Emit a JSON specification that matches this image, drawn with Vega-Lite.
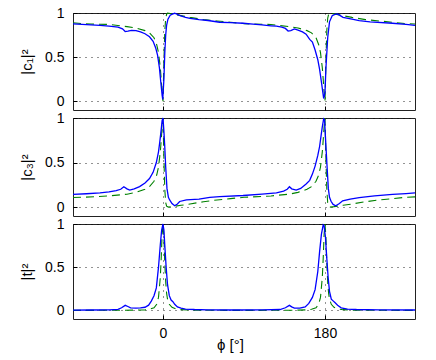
{
  "$schema": "https://vega.github.io/schema/vega-lite/v6.json",
  "padding": {"left": 19, "top": 5, "right": 5, "bottom": 5},
  "spacing": 8,
  "bounds": "flush",
  "config": {
    "font": "Liberation Sans",
    "view": {"stroke": "#222222", "strokeWidth": 1},
    "axis": {
      "domain": false,
      "labelFontSize": 14,
      "titleFontSize": 15,
      "titleFontWeight": "normal",
      "labelColor": "black",
      "titleColor": "black",
      "tickColor": "black",
      "tickSize": -4,
      "gridColor": "black",
      "gridDash": [1, 5],
      "gridOpacity": 0.85,
      "gridWidth": 1
    }
  },
  "data": {"values": [
    {"p":"c1","s":"model","phi":-100,"v":0.89},{"p":"c1","s":"model","phi":-90,"v":0.88},{"p":"c1","s":"model","phi":-80,"v":0.875},{"p":"c1","s":"model","phi":-60,"v":0.87},{"p":"c1","s":"model","phi":-40,"v":0.845},{"p":"c1","s":"model","phi":-30,"v":0.83},{"p":"c1","s":"model","phi":-20,"v":0.8},{"p":"c1","s":"model","phi":-15,"v":0.775},{"p":"c1","s":"model","phi":-10,"v":0.72},{"p":"c1","s":"model","phi":-7,"v":0.64},{"p":"c1","s":"model","phi":-5,"v":0.55},{"p":"c1","s":"model","phi":-3,"v":0.38},{"p":"c1","s":"model","phi":-2,"v":0.25},{"p":"c1","s":"model","phi":-1,"v":0.1},{"p":"c1","s":"model","phi":0,"v":0},{"p":"c1","s":"model","phi":1,"v":0.45},{"p":"c1","s":"model","phi":2,"v":0.8},{"p":"c1","s":"model","phi":3,"v":0.94},{"p":"c1","s":"model","phi":4,"v":0.985},{"p":"c1","s":"model","phi":5,"v":1.0},{"p":"c1","s":"model","phi":10,"v":0.99},{"p":"c1","s":"model","phi":20,"v":0.97},{"p":"c1","s":"model","phi":30,"v":0.95},{"p":"c1","s":"model","phi":45,"v":0.925},{"p":"c1","s":"model","phi":60,"v":0.91},{"p":"c1","s":"model","phi":75,"v":0.895},{"p":"c1","s":"model","phi":90,"v":0.88},{"p":"c1","s":"model","phi":100,"v":0.875},{"p":"c1","s":"model","phi":120,"v":0.87},{"p":"c1","s":"model","phi":140,"v":0.845},{"p":"c1","s":"model","phi":150,"v":0.83},{"p":"c1","s":"model","phi":160,"v":0.8},{"p":"c1","s":"model","phi":165,"v":0.775},{"p":"c1","s":"model","phi":170,"v":0.72},{"p":"c1","s":"model","phi":173,"v":0.64},{"p":"c1","s":"model","phi":175,"v":0.55},{"p":"c1","s":"model","phi":177,"v":0.38},{"p":"c1","s":"model","phi":178,"v":0.25},{"p":"c1","s":"model","phi":179,"v":0.1},{"p":"c1","s":"model","phi":180,"v":0},{"p":"c1","s":"model","phi":181,"v":0.45},{"p":"c1","s":"model","phi":182,"v":0.8},{"p":"c1","s":"model","phi":183,"v":0.94},{"p":"c1","s":"model","phi":184,"v":0.985},{"p":"c1","s":"model","phi":185,"v":1.0},{"p":"c1","s":"model","phi":190,"v":0.99},{"p":"c1","s":"model","phi":200,"v":0.97},{"p":"c1","s":"model","phi":210,"v":0.95},{"p":"c1","s":"model","phi":225,"v":0.925},{"p":"c1","s":"model","phi":240,"v":0.91},{"p":"c1","s":"model","phi":255,"v":0.895},{"p":"c1","s":"model","phi":270,"v":0.88},{"p":"c1","s":"model","phi":280,"v":0.875},

    {"p":"c1","s":"meas","phi":-100,"v":0.876},{"p":"c1","s":"meas","phi":-90,"v":0.872},{"p":"c1","s":"meas","phi":-80,"v":0.866},{"p":"c1","s":"meas","phi":-70,"v":0.86},{"p":"c1","s":"meas","phi":-60,"v":0.852},{"p":"c1","s":"meas","phi":-50,"v":0.84},{"p":"c1","s":"meas","phi":-45,"v":0.82},{"p":"c1","s":"meas","phi":-42,"v":0.79},{"p":"c1","s":"meas","phi":-39,"v":0.795},{"p":"c1","s":"meas","phi":-35,"v":0.803},{"p":"c1","s":"meas","phi":-30,"v":0.8},{"p":"c1","s":"meas","phi":-25,"v":0.785},{"p":"c1","s":"meas","phi":-20,"v":0.765},{"p":"c1","s":"meas","phi":-15,"v":0.73},{"p":"c1","s":"meas","phi":-11,"v":0.68},{"p":"c1","s":"meas","phi":-8,"v":0.6},{"p":"c1","s":"meas","phi":-6,"v":0.52},{"p":"c1","s":"meas","phi":-4,"v":0.38},{"p":"c1","s":"meas","phi":-2.5,"v":0.22},{"p":"c1","s":"meas","phi":-1,"v":0.07},{"p":"c1","s":"meas","phi":-0.3,"v":0.02},{"p":"c1","s":"meas","phi":1,"v":0.25},{"p":"c1","s":"meas","phi":2,"v":0.55},{"p":"c1","s":"meas","phi":3,"v":0.75},{"p":"c1","s":"meas","phi":4,"v":0.86},{"p":"c1","s":"meas","phi":5.5,"v":0.93},{"p":"c1","s":"meas","phi":8,"v":0.975},{"p":"c1","s":"meas","phi":11,"v":0.99},{"p":"c1","s":"meas","phi":13,"v":0.997},{"p":"c1","s":"meas","phi":16,"v":0.985},{"p":"c1","s":"meas","phi":19,"v":0.97},{"p":"c1","s":"meas","phi":25,"v":0.95},{"p":"c1","s":"meas","phi":30,"v":0.94},{"p":"c1","s":"meas","phi":40,"v":0.925},{"p":"c1","s":"meas","phi":50,"v":0.915},{"p":"c1","s":"meas","phi":63,"v":0.895},{"p":"c1","s":"meas","phi":75,"v":0.89},{"p":"c1","s":"meas","phi":89,"v":0.884},{"p":"c1","s":"meas","phi":100,"v":0.875},{"p":"c1","s":"meas","phi":110,"v":0.865},{"p":"c1","s":"meas","phi":120,"v":0.855},{"p":"c1","s":"meas","phi":126,"v":0.85},{"p":"c1","s":"meas","phi":132,"v":0.84},{"p":"c1","s":"meas","phi":136,"v":0.825},{"p":"c1","s":"meas","phi":139,"v":0.795},{"p":"c1","s":"meas","phi":142,"v":0.8},{"p":"c1","s":"meas","phi":146,"v":0.82},{"p":"c1","s":"meas","phi":150,"v":0.805},{"p":"c1","s":"meas","phi":155,"v":0.785},{"p":"c1","s":"meas","phi":159,"v":0.76},{"p":"c1","s":"meas","phi":163,"v":0.7},{"p":"c1","s":"meas","phi":166,"v":0.67},{"p":"c1","s":"meas","phi":169,"v":0.58},{"p":"c1","s":"meas","phi":172,"v":0.47},{"p":"c1","s":"meas","phi":174,"v":0.36},{"p":"c1","s":"meas","phi":176,"v":0.22},{"p":"c1","s":"meas","phi":178.5,"v":0.03},{"p":"c1","s":"meas","phi":180,"v":0.1},{"p":"c1","s":"meas","phi":181,"v":0.37},{"p":"c1","s":"meas","phi":183,"v":0.72},{"p":"c1","s":"meas","phi":185,"v":0.9},{"p":"c1","s":"meas","phi":188,"v":0.97},{"p":"c1","s":"meas","phi":191,"v":0.985},{"p":"c1","s":"meas","phi":194,"v":0.99},{"p":"c1","s":"meas","phi":197,"v":0.97},{"p":"c1","s":"meas","phi":200,"v":0.95},{"p":"c1","s":"meas","phi":210,"v":0.93},{"p":"c1","s":"meas","phi":218,"v":0.914},{"p":"c1","s":"meas","phi":230,"v":0.9},{"p":"c1","s":"meas","phi":255,"v":0.884},{"p":"c1","s":"meas","phi":270,"v":0.87},{"p":"c1","s":"meas","phi":280,"v":0.86},

    {"p":"c3","s":"model","phi":-100,"v":0.107},{"p":"c3","s":"model","phi":-90,"v":0.11},{"p":"c3","s":"model","phi":-60,"v":0.125},{"p":"c3","s":"model","phi":-40,"v":0.145},{"p":"c3","s":"model","phi":-30,"v":0.165},{"p":"c3","s":"model","phi":-20,"v":0.2},{"p":"c3","s":"model","phi":-15,"v":0.23},{"p":"c3","s":"model","phi":-10,"v":0.29},{"p":"c3","s":"model","phi":-7,"v":0.36},{"p":"c3","s":"model","phi":-5,"v":0.45},{"p":"c3","s":"model","phi":-3,"v":0.62},{"p":"c3","s":"model","phi":-2,"v":0.75},{"p":"c3","s":"model","phi":-1,"v":0.9},{"p":"c3","s":"model","phi":0,"v":1.0},{"p":"c3","s":"model","phi":1,"v":0.55},{"p":"c3","s":"model","phi":2,"v":0.2},{"p":"c3","s":"model","phi":3,"v":0.05},{"p":"c3","s":"model","phi":4,"v":0.01},{"p":"c3","s":"model","phi":6,"v":0.0},{"p":"c3","s":"model","phi":10,"v":0.005},{"p":"c3","s":"model","phi":20,"v":0.02},{"p":"c3","s":"model","phi":30,"v":0.035},{"p":"c3","s":"model","phi":45,"v":0.06},{"p":"c3","s":"model","phi":60,"v":0.08},{"p":"c3","s":"model","phi":75,"v":0.095},{"p":"c3","s":"model","phi":90,"v":0.11},{"p":"c3","s":"model","phi":120,"v":0.125},{"p":"c3","s":"model","phi":140,"v":0.145},{"p":"c3","s":"model","phi":150,"v":0.165},{"p":"c3","s":"model","phi":160,"v":0.2},{"p":"c3","s":"model","phi":165,"v":0.23},{"p":"c3","s":"model","phi":170,"v":0.29},{"p":"c3","s":"model","phi":173,"v":0.36},{"p":"c3","s":"model","phi":175,"v":0.45},{"p":"c3","s":"model","phi":177,"v":0.62},{"p":"c3","s":"model","phi":178,"v":0.75},{"p":"c3","s":"model","phi":179,"v":0.9},{"p":"c3","s":"model","phi":180,"v":1.0},{"p":"c3","s":"model","phi":181,"v":0.55},{"p":"c3","s":"model","phi":182,"v":0.2},{"p":"c3","s":"model","phi":183,"v":0.05},{"p":"c3","s":"model","phi":184,"v":0.01},{"p":"c3","s":"model","phi":186,"v":0.0},{"p":"c3","s":"model","phi":190,"v":0.005},{"p":"c3","s":"model","phi":200,"v":0.02},{"p":"c3","s":"model","phi":210,"v":0.035},{"p":"c3","s":"model","phi":225,"v":0.06},{"p":"c3","s":"model","phi":240,"v":0.08},{"p":"c3","s":"model","phi":255,"v":0.095},{"p":"c3","s":"model","phi":270,"v":0.11},{"p":"c3","s":"model","phi":280,"v":0.115},

    {"p":"c3","s":"meas","phi":-100,"v":0.143},{"p":"c3","s":"meas","phi":-85,"v":0.15},{"p":"c3","s":"meas","phi":-70,"v":0.16},{"p":"c3","s":"meas","phi":-60,"v":0.17},{"p":"c3","s":"meas","phi":-52,"v":0.184},{"p":"c3","s":"meas","phi":-47,"v":0.2},{"p":"c3","s":"meas","phi":-43.5,"v":0.228},{"p":"c3","s":"meas","phi":-40,"v":0.205},{"p":"c3","s":"meas","phi":-37,"v":0.19},{"p":"c3","s":"meas","phi":-32,"v":0.205},{"p":"c3","s":"meas","phi":-26,"v":0.23},{"p":"c3","s":"meas","phi":-20,"v":0.27},{"p":"c3","s":"meas","phi":-15,"v":0.32},{"p":"c3","s":"meas","phi":-11,"v":0.39},{"p":"c3","s":"meas","phi":-7.4,"v":0.5},{"p":"c3","s":"meas","phi":-5,"v":0.62},{"p":"c3","s":"meas","phi":-3.7,"v":0.72},{"p":"c3","s":"meas","phi":-2,"v":0.87},{"p":"c3","s":"meas","phi":-1,"v":0.97},{"p":"c3","s":"meas","phi":0,"v":1.0},{"p":"c3","s":"meas","phi":1,"v":0.85},{"p":"c3","s":"meas","phi":1.9,"v":0.69},{"p":"c3","s":"meas","phi":3,"v":0.45},{"p":"c3","s":"meas","phi":4.4,"v":0.21},{"p":"c3","s":"meas","phi":6,"v":0.11},{"p":"c3","s":"meas","phi":7.4,"v":0.08},{"p":"c3","s":"meas","phi":10,"v":0.04},{"p":"c3","s":"meas","phi":13,"v":0.015},{"p":"c3","s":"meas","phi":16,"v":0.035},{"p":"c3","s":"meas","phi":18.5,"v":0.063},{"p":"c3","s":"meas","phi":26,"v":0.08},{"p":"c3","s":"meas","phi":40,"v":0.09},{"p":"c3","s":"meas","phi":52,"v":0.11},{"p":"c3","s":"meas","phi":63,"v":0.118},{"p":"c3","s":"meas","phi":89,"v":0.13},{"p":"c3","s":"meas","phi":110,"v":0.145},{"p":"c3","s":"meas","phi":126,"v":0.16},{"p":"c3","s":"meas","phi":134,"v":0.18},{"p":"c3","s":"meas","phi":138,"v":0.2},{"p":"c3","s":"meas","phi":140.5,"v":0.228},{"p":"c3","s":"meas","phi":143,"v":0.205},{"p":"c3","s":"meas","phi":148,"v":0.19},{"p":"c3","s":"meas","phi":153,"v":0.21},{"p":"c3","s":"meas","phi":159,"v":0.26},{"p":"c3","s":"meas","phi":163,"v":0.3},{"p":"c3","s":"meas","phi":166,"v":0.37},{"p":"c3","s":"meas","phi":169,"v":0.46},{"p":"c3","s":"meas","phi":172,"v":0.58},{"p":"c3","s":"meas","phi":174,"v":0.68},{"p":"c3","s":"meas","phi":175.6,"v":0.8},{"p":"c3","s":"meas","phi":177,"v":0.9},{"p":"c3","s":"meas","phi":178.5,"v":0.99},{"p":"c3","s":"meas","phi":179.5,"v":0.98},{"p":"c3","s":"meas","phi":181,"v":0.69},{"p":"c3","s":"meas","phi":182.5,"v":0.42},{"p":"c3","s":"meas","phi":183.7,"v":0.21},{"p":"c3","s":"meas","phi":185,"v":0.11},{"p":"c3","s":"meas","phi":186.7,"v":0.065},{"p":"c3","s":"meas","phi":189,"v":0.03},{"p":"c3","s":"meas","phi":192,"v":0.015},{"p":"c3","s":"meas","phi":196,"v":0.04},{"p":"c3","s":"meas","phi":199.6,"v":0.07},{"p":"c3","s":"meas","phi":208,"v":0.09},{"p":"c3","s":"meas","phi":218,"v":0.107},{"p":"c3","s":"meas","phi":235,"v":0.125},{"p":"c3","s":"meas","phi":255,"v":0.143},{"p":"c3","s":"meas","phi":270,"v":0.152},{"p":"c3","s":"meas","phi":280,"v":0.16},

    {"p":"t","s":"model","phi":-100,"v":0.0},{"p":"t","s":"model","phi":-45,"v":0.001},{"p":"t","s":"model","phi":-30,"v":0.003},{"p":"t","s":"model","phi":-20,"v":0.006},{"p":"t","s":"model","phi":-15,"v":0.012},{"p":"t","s":"model","phi":-10,"v":0.03},{"p":"t","s":"model","phi":-7,"v":0.07},{"p":"t","s":"model","phi":-5,"v":0.15},{"p":"t","s":"model","phi":-3,"v":0.38},{"p":"t","s":"model","phi":-2,"v":0.6},{"p":"t","s":"model","phi":-1,"v":0.88},{"p":"t","s":"model","phi":0,"v":1.0},{"p":"t","s":"model","phi":1,"v":0.85},{"p":"t","s":"model","phi":2,"v":0.55},{"p":"t","s":"model","phi":3,"v":0.33},{"p":"t","s":"model","phi":4,"v":0.2},{"p":"t","s":"model","phi":5,"v":0.13},{"p":"t","s":"model","phi":7,"v":0.07},{"p":"t","s":"model","phi":10,"v":0.035},{"p":"t","s":"model","phi":15,"v":0.015},{"p":"t","s":"model","phi":20,"v":0.008},{"p":"t","s":"model","phi":30,"v":0.003},{"p":"t","s":"model","phi":45,"v":0.001},{"p":"t","s":"model","phi":90,"v":0.0},{"p":"t","s":"model","phi":135,"v":0.001},{"p":"t","s":"model","phi":150,"v":0.003},{"p":"t","s":"model","phi":160,"v":0.006},{"p":"t","s":"model","phi":165,"v":0.012},{"p":"t","s":"model","phi":170,"v":0.03},{"p":"t","s":"model","phi":173,"v":0.07},{"p":"t","s":"model","phi":175,"v":0.15},{"p":"t","s":"model","phi":177,"v":0.38},{"p":"t","s":"model","phi":178,"v":0.6},{"p":"t","s":"model","phi":179,"v":0.88},{"p":"t","s":"model","phi":180,"v":1.0},{"p":"t","s":"model","phi":181,"v":0.85},{"p":"t","s":"model","phi":182,"v":0.55},{"p":"t","s":"model","phi":183,"v":0.33},{"p":"t","s":"model","phi":184,"v":0.2},{"p":"t","s":"model","phi":185,"v":0.13},{"p":"t","s":"model","phi":187,"v":0.07},{"p":"t","s":"model","phi":190,"v":0.035},{"p":"t","s":"model","phi":195,"v":0.015},{"p":"t","s":"model","phi":200,"v":0.008},{"p":"t","s":"model","phi":210,"v":0.003},{"p":"t","s":"model","phi":225,"v":0.001},{"p":"t","s":"model","phi":280,"v":0.0},

    {"p":"t","s":"meas","phi":-100,"v":0.003},{"p":"t","s":"meas","phi":-80,"v":0.004},{"p":"t","s":"meas","phi":-60,"v":0.006},{"p":"t","s":"meas","phi":-50,"v":0.012},{"p":"t","s":"meas","phi":-46,"v":0.03},{"p":"t","s":"meas","phi":-42,"v":0.058},{"p":"t","s":"meas","phi":-39,"v":0.045},{"p":"t","s":"meas","phi":-36,"v":0.03},{"p":"t","s":"meas","phi":-30,"v":0.025},{"p":"t","s":"meas","phi":-25,"v":0.028},{"p":"t","s":"meas","phi":-20,"v":0.036},{"p":"t","s":"meas","phi":-16,"v":0.06},{"p":"t","s":"meas","phi":-13,"v":0.107},{"p":"t","s":"meas","phi":-10,"v":0.17},{"p":"t","s":"meas","phi":-7.4,"v":0.26},{"p":"t","s":"meas","phi":-5,"v":0.5},{"p":"t","s":"meas","phi":-3,"v":0.76},{"p":"t","s":"meas","phi":-1.5,"v":0.93},{"p":"t","s":"meas","phi":0,"v":1.0},{"p":"t","s":"meas","phi":1,"v":0.93},{"p":"t","s":"meas","phi":2,"v":0.75},{"p":"t","s":"meas","phi":3.5,"v":0.5},{"p":"t","s":"meas","phi":5,"v":0.3},{"p":"t","s":"meas","phi":7,"v":0.17},{"p":"t","s":"meas","phi":9,"v":0.12},{"p":"t","s":"meas","phi":11,"v":0.1},{"p":"t","s":"meas","phi":13,"v":0.07},{"p":"t","s":"meas","phi":16,"v":0.04},{"p":"t","s":"meas","phi":20,"v":0.025},{"p":"t","s":"meas","phi":25,"v":0.015},{"p":"t","s":"meas","phi":35,"v":0.01},{"p":"t","s":"meas","phi":50,"v":0.006},{"p":"t","s":"meas","phi":80,"v":0.004},{"p":"t","s":"meas","phi":110,"v":0.005},{"p":"t","s":"meas","phi":130,"v":0.01},{"p":"t","s":"meas","phi":136,"v":0.03},{"p":"t","s":"meas","phi":140.4,"v":0.058},{"p":"t","s":"meas","phi":143,"v":0.04},{"p":"t","s":"meas","phi":146,"v":0.025},{"p":"t","s":"meas","phi":152,"v":0.025},{"p":"t","s":"meas","phi":158,"v":0.04},{"p":"t","s":"meas","phi":162,"v":0.08},{"p":"t","s":"meas","phi":166,"v":0.15},{"p":"t","s":"meas","phi":169,"v":0.24},{"p":"t","s":"meas","phi":172,"v":0.45},{"p":"t","s":"meas","phi":174,"v":0.68},{"p":"t","s":"meas","phi":176,"v":0.88},{"p":"t","s":"meas","phi":178,"v":0.99},{"p":"t","s":"meas","phi":179,"v":0.98},{"p":"t","s":"meas","phi":180.5,"v":0.85},{"p":"t","s":"meas","phi":182,"v":0.6},{"p":"t","s":"meas","phi":183.5,"v":0.38},{"p":"t","s":"meas","phi":185,"v":0.22},{"p":"t","s":"meas","phi":187,"v":0.13},{"p":"t","s":"meas","phi":189,"v":0.11},{"p":"t","s":"meas","phi":191,"v":0.09},{"p":"t","s":"meas","phi":194,"v":0.06},{"p":"t","s":"meas","phi":198,"v":0.03},{"p":"t","s":"meas","phi":205,"v":0.015},{"p":"t","s":"meas","phi":215,"v":0.01},{"p":"t","s":"meas","phi":240,"v":0.005},{"p":"t","s":"meas","phi":280,"v":0.004}
  ]},
  "vconcat": [
    {
      "width": 342, "height": 97,
      "transform": [{"filter": "datum.p === 'c1'"}],
      "encoding": {
        "x": {"field": "phi", "type": "quantitative", "scale": {"domain": [-100, 280], "nice": false, "zero": false},
              "axis": {"values": [0, 180], "labels": false, "title": null}},
        "y": {"field": "v", "type": "quantitative", "scale": {"domain": [-0.1, 1], "nice": false},
              "axis": {"values": [0, 0.5, 1], "format": "~g", "title": "|c₁|²", "labelPadding": 13, "titlePadding": 10}}
      },
      "layer": [
        {"transform": [{"filter": "datum.s === 'model'"}], "mark": {"type": "line", "color": "#008000", "strokeDash": [8, 5], "strokeWidth": 1.1}},
        {"transform": [{"filter": "datum.s === 'meas'"}], "mark": {"type": "line", "color": "#0000ff", "strokeWidth": 1.3}}
      ]
    },
    {
      "width": 342, "height": 98,
      "transform": [{"filter": "datum.p === 'c3'"}],
      "encoding": {
        "x": {"field": "phi", "type": "quantitative", "scale": {"domain": [-100, 280], "nice": false, "zero": false},
              "axis": {"values": [0, 180], "labels": false, "title": null}},
        "y": {"field": "v", "type": "quantitative", "scale": {"domain": [-0.1, 1], "nice": false},
              "axis": {"values": [0, 0.5, 1], "format": "~g", "title": "|c₃|²", "labelPadding": 13, "titlePadding": 10}}
      },
      "layer": [
        {"transform": [{"filter": "datum.s === 'model'"}], "mark": {"type": "line", "color": "#008000", "strokeDash": [8, 5], "strokeWidth": 1.1}},
        {"transform": [{"filter": "datum.s === 'meas'"}], "mark": {"type": "line", "color": "#0000ff", "strokeWidth": 1.3}}
      ]
    },
    {
      "width": 342, "height": 95,
      "transform": [{"filter": "datum.p === 't'"}],
      "encoding": {
        "x": {"field": "phi", "type": "quantitative", "scale": {"domain": [-100, 280], "nice": false, "zero": false},
              "axis": {"values": [0, 180], "title": "ϕ [°]", "labelPadding": 11, "titleX": 157, "titleY": 18, "titleBaseline": "top"}},
        "y": {"field": "v", "type": "quantitative", "scale": {"domain": [-0.1, 1], "nice": false},
              "axis": {"values": [0, 0.5, 1], "format": "~g", "title": "|t|²", "labelPadding": 13, "titlePadding": 10}}
      },
      "layer": [
        {"transform": [{"filter": "datum.s === 'model'"}], "mark": {"type": "line", "color": "#008000", "strokeDash": [8, 5], "strokeWidth": 1.1}},
        {"transform": [{"filter": "datum.s === 'meas'"}], "mark": {"type": "line", "color": "#0000ff", "strokeWidth": 1.3}}
      ]
    }
  ]
}
